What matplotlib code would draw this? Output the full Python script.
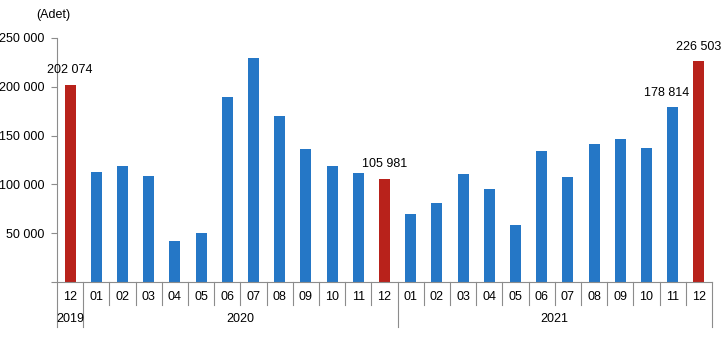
import matplotlib
matplotlib.use("Agg")
import matplotlib.pyplot as plt
from matplotlib.ticker import FuncFormatter

plt.rcParams['font.family'] = ['Liberation Sans', 'DejaVu Sans']

months = ["12", "01", "02", "03", "04", "05", "06", "07", "08", "09", "10", "11", "12",
          "01", "02", "03", "04", "05", "06", "07", "08", "09", "10", "11", "12"]
years = ["2019", "2020", "2021"]
year_counts = [1, 12, 12]
values = [202074, 112800, 119200, 109000, 42200, 50400, 189500, 229300, 170000, 136300,
          119200, 111800, 105981, 69800, 81100, 110700, 95400, 58600, 134300, 107700,
          141400, 146500, 137300, 178814, 226503]
highlight = [0, 12, 24]
labelled = {0: "202 074", 12: "105 981", 23: "178 814", 24: "226 503"}

blue = "#2577C6"
red = "#B8221B"
grey = "#8C8C8C"

fig = plt.figure(figsize=(7.22, 3.46), dpi=100)
ax = fig.add_axes([57/722, 1-282/346, (712-57)/722, (282-38)/346])

x = list(range(len(values)))
colors = [red if i in highlight else blue for i in x]
ax.bar(x, values, width=0.42, color=colors, zorder=2)

ax.set_xlim(-0.5, len(values)-0.5)
ax.set_ylim(0, 250000)
ax.set_yticks([0, 50000, 100000, 150000, 200000, 250000])
ax.yaxis.set_major_formatter(FuncFormatter(lambda v, p: "" if v == 0 else f"{int(v):,}".replace(",", " ")))
ax.tick_params(axis='y', length=4, color=grey, labelsize=9, pad=5, width=0.8)
ax.set_xticks([])
for s in ["top", "right"]:
    ax.spines[s].set_visible(False)
for s in ["left", "bottom"]:
    ax.spines[s].set_color(grey)
    ax.spines[s].set_linewidth(0.8)

# data labels
for i, t in labelled.items():
    dx = -0.25 if i == 23 else 0
    ax.annotate(t, (i + dx, values[i]), xytext=(0, 6), textcoords="offset points",
                ha="center", va="bottom", fontsize=9)

# category axis
trans = ax.get_xaxis_transform()
short_h = -23/244
long_h = -45/244
bounds = [-0.5]
acc = -0.5
for c in year_counts:
    acc += c
    bounds.append(acc)
for k in range(len(values) + 1):
    b = k - 0.5
    h = long_h if b in bounds else short_h
    ax.plot([b, b], [0, h], transform=trans, color=grey, lw=0.8, clip_on=False)
for i, m in enumerate(months):
    ax.text(i, -15/244, m, transform=trans, ha="center", va="center", fontsize=9)
start = -0.5
for y, c in zip(years, year_counts):
    ax.text(start + c/2, -37/244, y, transform=trans, ha="center", va="center", fontsize=9)
    start += c

fig.text(36/722, 1-15/346, "(Adet)", ha="left", va="center", fontsize=9)

fig.savefig("out.png", dpi=100)
